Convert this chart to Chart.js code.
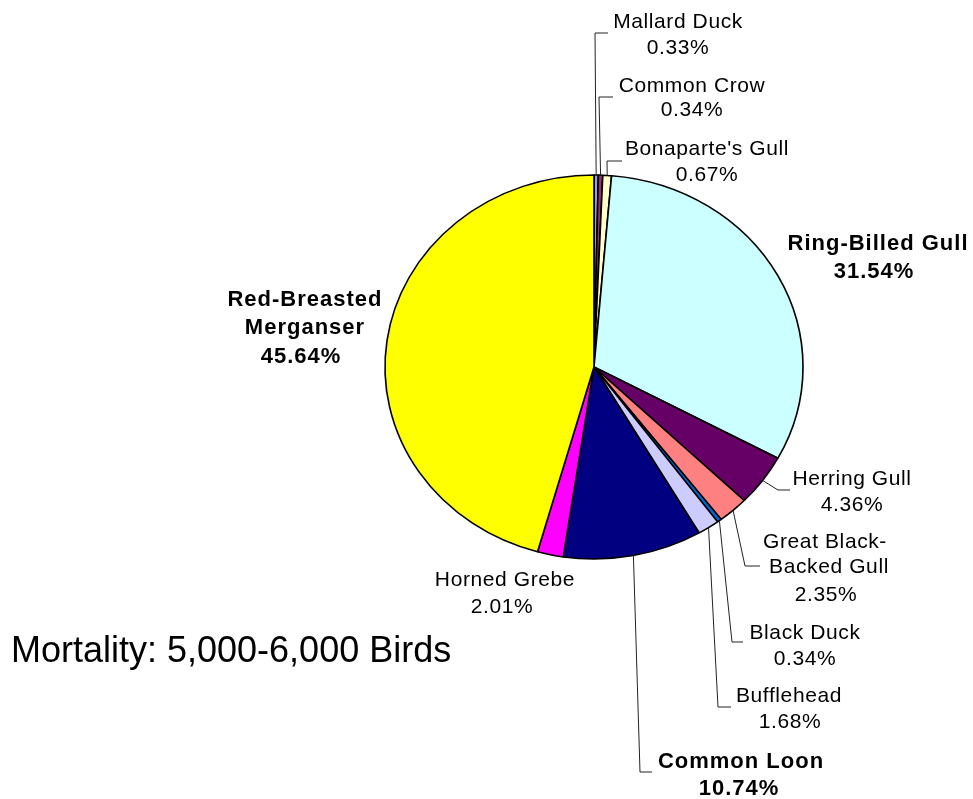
<!DOCTYPE html>
<html lang="en">
<head>
<meta charset="UTF-8">
<title>Mortality: 5,000-6,000 Birds</title>
<script src="https://cdn.jsdelivr.net/npm/chart.js"></script>
<style>
  body { margin: 0; background: #fff; }
  canvas { display: block; }
</style>
</head>
<body>
<canvas id="pieChart" width="973" height="799"></canvas>
<script>
// data
const species = ['Mallard Duck', 'Common Crow', "Bonaparte's Gull", 'Ring-Billed Gull', 'Herring Gull',
  'Great Black-Backed Gull', 'Black Duck', 'Bufflehead', 'Common Loon', 'Horned Grebe', 'Red-Breasted Merganser'];
const mortalityPct = [0.33, 0.34, 0.67, 31.54, 4.36, 2.35, 0.34, 1.68, 10.74, 2.01, 45.64];
const sliceColors = ['#9999FF', '#993366', '#FFFFCC', '#CCFFFF', '#660066', '#FF8080',
  '#0066CC', '#CCCCFF', '#000080', '#FF00FF', '#FFFF00'];
const boldSpecies = ['Ring-Billed Gull', 'Common Loon', 'Red-Breasted Merganser'];
const wrappedNames = {
  'Great Black-Backed Gull': ['Great Black-', 'Backed Gull'],
  'Red-Breasted Merganser': ['Red-Breasted', 'Merganser']
};
const chartTitle = 'Mortality: 5,000-6,000 Birds';

// where each label sits (x centre per line, y middle of caps per line), plus leader elbow/end
const labelLayout = [
  { x: [678, 678], y: [20, 46], leader: [[595, 33], [608, 33]] },
  { x: [692, 692], y: [84, 108], leader: [[599, 97], [613, 97]] },
  { x: [707, 707], y: [147, 173], leader: [[607, 161], [622, 161]] },
  { x: [878, 874], y: [242, 270] },
  { x: [852, 852], y: [477, 503], leader: [[778, 490], [790, 490]] },
  { x: [825, 829, 826], y: [540, 565, 593], leader: [[745, 566], [760, 566]] },
  { x: [805, 805], y: [631, 657], leader: [[732, 642], [743, 642]] },
  { x: [789, 790], y: [694, 720], leader: [[718, 707], [731, 707]] },
  { x: [741, 739], y: [760, 787], leader: [[640, 772], [652, 772]] },
  { x: [505, 502], y: [578, 605] },
  { x: [305, 305, 301], y: [298, 326, 355] }
];

const stretchX = 209 / 192;   // the pie is a little wider than tall

const ellipsePie = {
  id: 'ellipsePie',
  beforeDatasetsDraw(chart) {
    const arc = chart.getDatasetMeta(0).data[0];
    const ctx = chart.ctx;
    ctx.save();
    ctx.translate(arc.x, arc.y);
    ctx.scale(stretchX, 1);
    ctx.translate(-arc.x, -arc.y);
  },
  afterDatasetsDraw(chart) {
    chart.ctx.restore();
  }
};

const pieLabels = {
  id: 'pieLabels',
  afterDraw(chart) {
    const ctx = chart.ctx;
    const arcs = chart.getDatasetMeta(0).data;
    ctx.save();
    ctx.fillStyle = '#000';
    ctx.textAlign = 'center';
    ctx.textBaseline = 'alphabetic';

    arcs.forEach((arc, i) => {
      const lay = labelLayout[i];
      const name = species[i];
      const bold = boldSpecies.includes(name);
      const size = bold ? 22 : 21;
      const lines = (wrappedNames[name] || [name]).concat(mortalityPct[i].toFixed(2) + '%');

      if (lay.leader) {
        const mid = (arc.startAngle + arc.endAngle) / 2;
        const sx = arc.x + arc.outerRadius * stretchX * Math.cos(mid);
        const sy = arc.y + arc.outerRadius * Math.sin(mid);
        ctx.beginPath();
        ctx.moveTo(sx, sy);
        lay.leader.forEach(p => ctx.lineTo(p[0], p[1]));
        ctx.strokeStyle = '#222';
        ctx.lineWidth = 1;
        ctx.stroke();
      }

      ctx.font = (bold ? 'bold ' : '') + size + 'px "Liberation Sans", Arial, sans-serif';
      ctx.letterSpacing = bold ? '1px' : '0.6px';
      lines.forEach((t, k) => {
        ctx.fillText(t, lay.x[k], lay.y[k] + 0.36 * size);
      });
    });

    ctx.letterSpacing = '0px';
    ctx.textAlign = 'left';
    ctx.font = '36px "Liberation Sans", Arial, sans-serif';
    ctx.fillText(chartTitle, 11, 662);
    ctx.restore();
  }
};

const ctxPie = document.getElementById('pieChart').getContext('2d');
const pieChart = new Chart(ctxPie, {
  type: 'pie',
  data: {
    labels: species,
    datasets: [{
      data: mortalityPct,
      backgroundColor: sliceColors,
      borderColor: '#000',
      borderWidth: 1.5,
      radius: 192
    }]
  },
  options: {
    responsive: false,
    animation: false,
    layout: { padding: { left: 215, right: 0, top: 0, bottom: 65 } },
    plugins: {
      legend: { display: false },
      tooltip: { enabled: false }
    }
  },
  plugins: [ellipsePie, pieLabels]
});
</script>
</body>
</html>
